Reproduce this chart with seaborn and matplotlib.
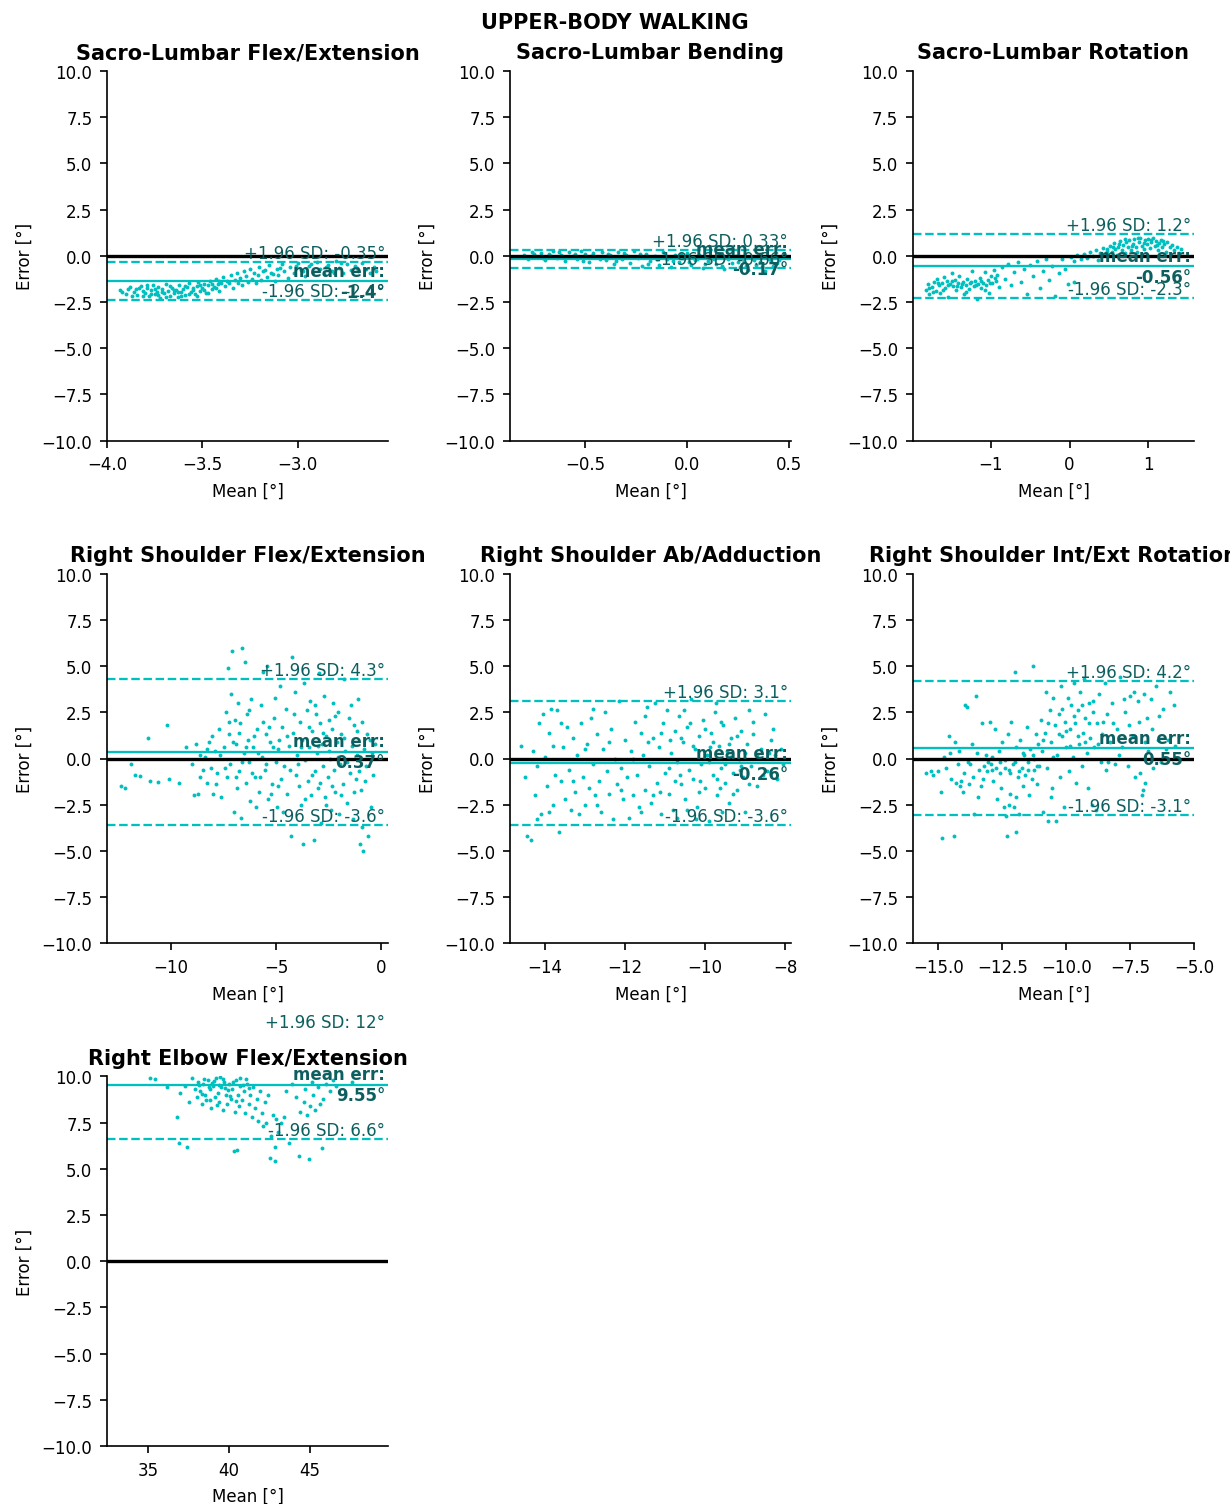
import matplotlib
matplotlib.use("Agg")
import matplotlib.pyplot as plt
import matplotlib.transforms as mtransforms
import seaborn as sns
import pandas as pd

# ---------------- data ----------------
titles = ["Sacro-Lumbar Flex/Extension", "Sacro-Lumbar Bending", "Sacro-Lumbar Rotation",
          "Right Shoulder Flex/Extension", "Right Shoulder Ab/Adduction",
          "Right Shoulder Int/Ext Rotation", "Right Elbow Flex/Extension"]

mean_err = [-1.38, -0.17, -0.56, 0.37, -0.26, 0.55, 9.55]
upper_loa = [-0.35, 0.33, 1.20, 4.32, 3.10, 4.18, 12.45]
lower_loa = [-2.41, -0.66, -2.31, -3.58, -3.62, -3.07, 6.62]
mean_lbl = ["-1.4", "-0.17", "-0.56", "0.37", "-0.26", "0.55", "9.55"]
upper_lbl = ["-0.35", "0.33", "1.2", "4.3", "3.1", "4.2", "12"]
lower_lbl = ["-2.4", "-0.66", "-2.3", "-3.6", "-3.6", "-3.1", "6.6"]

xlims = [(-4.0, -2.525), (-0.87, 0.51), (-1.99, 1.58), (-13.05, 0.33),
         (-14.88, -7.85), (-16.0, -5.0), (32.47, 49.8)]

sl_flex = [(-3.93,-1.85),(-3.90,-2.05),(-3.88,-1.70),(-3.86,-1.95),(-3.85,-1.80),(-3.84,-2.10),(-3.82,-1.65),
    (-3.81,-1.90),(-3.80,-2.00),(-3.79,-1.75),(-3.78,-2.20),(-3.77,-1.85),(-3.76,-1.60),(-3.75,-2.05),(-3.74,-1.95),
    (-3.73,-1.70),(-3.72,-2.30),(-3.71,-1.80),(-3.70,-2.00),(-3.69,-1.55),(-3.68,-1.90),(-3.67,-2.15),(-3.66,-1.75),
    (-3.65,-2.00),(-3.64,-1.85),(-3.63,-2.25),(-3.62,-1.60),(-3.61,-1.95),(-3.60,-1.80),(-3.59,-2.10),(-3.58,-1.70),
    (-3.57,-1.50),(-3.56,-1.95),(-3.55,-1.85),(-3.54,-2.05),(-3.53,-1.65),(-3.52,-1.40),(-3.51,-1.90),(-3.50,-1.75),
    (-3.49,-1.55),(-3.48,-2.00),(-3.47,-1.60),(-3.46,-1.35),(-3.45,-1.80),(-3.44,-1.70),(-3.43,-1.25),(-3.42,-1.55),
    (-3.41,-1.90),(-3.40,-1.45),(-3.39,-1.15),(-3.38,-1.65),(-3.37,-1.35),(-3.36,-1.50),(-3.35,-1.05),(-3.34,-1.75),
    (-3.33,-1.30),(-3.32,-0.95),(-3.31,-1.45),(-3.30,-1.20),(-3.29,-1.60),(-3.28,-0.85),(-3.27,-1.10),(-3.26,-1.40),
    (-3.25,-0.70),(-3.24,-1.25),(-3.23,-0.95),(-3.22,-1.50),(-3.21,-1.05),(-3.20,-0.60),(-3.19,-1.30),(-3.18,-0.85),
    (-3.16,-1.15),(-3.15,-0.50),(-3.14,-0.95),(-3.12,-1.35),(-3.11,-0.70),(-3.10,-1.05),(-3.08,-0.45),(-3.07,-0.85),
    (-3.05,-1.20),(-3.04,-0.60),(-3.02,-0.95),(-3.00,-0.40),(-2.98,-0.75),(-2.96,-1.10),(-2.94,-0.55),(-2.92,-0.90),
    (-2.90,-0.35),(-2.88,-0.70),(-2.86,-1.00),(-2.84,-0.50),(-2.82,-0.80),(-2.80,-0.30),(-2.78,-0.65),(-2.76,-0.95),
    (-2.74,-0.45),(-2.72,-0.75),(-2.70,-0.55),(-2.68,-0.85),(-2.66,-0.40),(-2.64,-0.70),(-2.62,-0.95),(-2.60,-0.60),
    (-2.59,-0.80),(-3.92,-1.95),(-3.89,-1.80),(-3.87,-2.15),(-3.83,-1.75),(-3.81,-2.20),(-3.79,-1.60),(-3.77,-2.05),
    (-3.75,-1.80),(-3.73,-2.10),(-3.71,-1.95),(-3.69,-2.25),(-3.67,-1.65),(-3.65,-1.85),(-3.63,-1.95),(-3.61,-2.20),
    (-3.59,-1.65),(-3.57,-2.05),(-3.55,-1.75),(-3.53,-2.15),(-3.51,-1.60),(-3.49,-1.85),(-3.47,-2.00),(-3.45,-1.55),
    (-3.43,-1.75),(-3.41,-1.35),(-3.17,-0.75),(-3.09,-0.65),(-3.01,-0.55),(-2.93,-0.45),(-2.85,-0.60),(-2.77,-0.40),
    (-2.69,-0.65),(-3.13,-1.00),(-2.97,-0.85),(-2.81,-0.95)]

sl_bend = [(-0.80,0.05),(-0.78,-0.15),(-0.76,0.20),(-0.74,-0.05),(-0.72,0.15),(-0.70,-0.25),(-0.68,0.10),
    (-0.66,0.28),(-0.64,-0.10),(-0.62,0.05),(-0.60,-0.30),(-0.58,0.20),(-0.56,0.00),(-0.54,-0.20),(-0.52,0.25),
    (-0.50,0.08),(-0.48,-0.35),(-0.46,0.15),(-0.44,-0.05),(-0.42,0.22),(-0.40,-0.25),(-0.38,0.05),(-0.36,-0.45),
    (-0.34,0.18),(-0.32,-0.15),(-0.30,0.02),(-0.28,-0.38),(-0.26,0.25),(-0.24,-0.10),(-0.22,-0.55),(-0.20,0.10),
    (-0.18,-0.30),(-0.16,0.00),(-0.14,-0.48),(-0.12,0.20),(-0.10,-0.20),(-0.08,-0.62),(-0.06,0.05),(-0.04,-0.35),
    (-0.02,-0.12),(0.00,0.15),(0.02,-0.50),(0.04,-0.25),(0.06,0.05),(0.08,-0.65),(0.10,-0.30),(0.12,-0.05),
    (0.14,-0.45),(0.16,0.12),(0.18,-0.70),(0.20,-0.20),(0.22,-0.40),(0.24,0.00),(0.26,-0.60),(0.28,-0.28),
    (0.30,-0.75),(0.32,-0.10),(0.34,-0.50),(0.36,-0.35),(0.38,-0.80),(0.40,-0.15),(0.42,-0.55),(0.44,-0.40),
    (0.45,-0.25),(-0.79,-0.05),(-0.75,0.10),(-0.71,-0.12),(-0.67,0.00),(-0.63,0.18),(-0.59,-0.08),(-0.55,0.12),
    (-0.51,-0.28),(-0.47,0.00),(-0.43,-0.18),(-0.39,0.12),(-0.35,-0.28),(-0.31,0.15),(-0.27,-0.05),(-0.23,0.08),
    (-0.19,-0.42),(-0.15,-0.15),(-0.11,0.02),(-0.07,-0.28),(-0.03,0.10),(0.01,-0.32),(0.05,-0.15),(0.09,-0.42),
    (0.13,-0.20),(0.17,-0.55),(0.21,-0.05),(0.25,-0.35),(0.29,-0.55),(0.33,-0.25),(0.37,-0.60),(0.41,-0.30)]

sl_rot = [(-1.83,-1.85),(-1.80,-1.55),(-1.78,-2.05),(-1.75,-1.70),(-1.72,-1.40),(-1.70,-1.90),(-1.68,-1.25),
    (-1.66,-1.60),(-1.64,-2.00),(-1.62,-1.45),(-1.60,-1.15),(-1.58,-1.75),(-1.56,-1.35),(-1.54,-2.25),(-1.52,-1.55),
    (-1.50,-0.95),(-1.48,-1.65),(-1.46,-1.30),(-1.44,-1.85),(-1.42,-1.50),(-1.40,-1.10),(-1.38,-1.70),(-1.36,-1.40),
    (-1.34,-2.05),(-1.32,-1.60),(-1.30,-1.25),(-1.28,-1.80),(-1.26,-1.50),(-1.24,-0.85),(-1.22,-1.65),(-1.20,-1.35),
    (-1.18,-2.35),(-1.16,-1.55),(-1.14,-1.20),(-1.12,-1.75),(-1.10,-1.45),(-1.08,-0.90),(-1.06,-1.60),(-1.04,-1.30),
    (-1.02,-2.00),(-1.00,-1.10),(-0.98,-1.50),(-0.96,-0.75),(-0.94,-1.35),(-0.92,-1.05),(-0.90,-1.70),
    (-1.79,-1.75),(-1.73,-1.95),(-1.67,-1.45),(-1.61,-1.85),(-1.55,-1.60),(-1.49,-1.35),(-1.43,-1.65),
    (-1.37,-1.55),(-1.31,-1.95),(-1.25,-1.40),(-1.19,-1.60),(-1.13,-1.35),(-1.07,-1.85),(-1.01,-1.45),(-0.95,-1.20),
    (-0.86,-0.60),(-0.82,-1.25),(-0.78,-0.45),(-0.74,-1.60),(-0.70,-0.90),(-0.66,-0.35),(-0.62,-1.40),(-0.58,-0.70),
    (-0.54,-2.05),(-0.50,-0.50),(-0.46,-1.10),(-0.42,-0.30),(-0.38,-1.75),(-0.34,-0.80),(-0.30,-0.20),(-0.26,-1.30),
    (-0.22,-0.55),(-0.18,-2.15),(-0.14,-0.95),(-0.10,-0.15),(-0.06,-0.70),(-0.02,-1.55),
    (0.02,-0.05),(0.05,-1.40),(0.06,-0.30),(0.10,0.05),(0.14,-0.20),(0.18,0.10),(0.22,-0.10),(0.26,0.20),
    (0.30,0.00),(0.33,0.30),(0.36,-0.25),(0.39,0.15),(0.42,0.40),(0.45,0.05),(0.48,0.25),(0.51,0.55),(0.54,0.20),
    (0.56,0.70),(0.58,0.35),(0.60,0.05),(0.62,0.50),(0.64,0.80),(0.66,0.30),(0.68,0.60),(0.70,0.15),(0.72,0.75),
    (0.74,0.45),(0.76,0.85),(0.78,0.30),(0.80,0.65),(0.82,0.90),(0.84,0.50),(0.86,0.20),(0.88,0.75),(0.90,0.95),
    (0.92,0.55),(0.94,0.35),(0.96,0.85),(0.98,0.65),(1.00,0.90),(1.02,0.40),(1.04,0.75),(1.06,0.95),(1.08,0.55),
    (1.10,0.80),(1.12,0.30),(1.14,0.70),(1.16,0.85),(1.18,0.50),(1.20,0.65),(1.22,0.20),(1.24,0.75),(1.27,0.45),
    (1.30,0.60),(1.33,0.30),(1.36,0.50),(1.39,0.15),(1.42,0.35),(0.63,0.65),(0.71,0.90),(0.79,0.55),(0.87,0.95),
    (0.95,0.70),(1.03,0.85),(1.11,0.60),(1.19,0.80),(0.55,0.45),(0.47,0.35)]

sh_flex = [(-12.4,-1.5),(-12.2,-1.6),(-11.9,-0.3),(-11.7,-0.9),(-11.5,-0.95),(-11.1,1.1),(-11.0,-1.2),
    (-10.6,-1.25),(-10.2,1.8),(-10.1,-1.1),(-9.6,-1.3),(-9.3,0.6),
    (-9.0,-0.3),(-8.9,-2.0),(-8.8,0.8),(-8.7,-1.9),(-8.6,0.2),(-8.5,-0.6),(-8.4,0.1),(-8.3,-1.3),(-8.2,0.9),
    (-8.1,-0.5),(-8.0,-1.9),(-7.9,0.4),(-7.8,-0.8),(-7.7,1.6),(-7.6,-2.1),(-7.5,0.6),(-7.4,2.5),(-7.35,-1.0),
    (-7.3,4.9),(-7.25,1.3),(-7.2,-0.3),(-7.15,3.5),(-7.1,5.8),(-7.0,-2.9),(-6.95,2.1),(-6.9,0.8),(-6.85,-1.6),
    (-6.8,3.0),(-6.75,-0.7),(-6.7,1.9),(-6.65,-3.2),(-6.6,6.0),(-6.55,0.3),(-6.5,5.2),(-6.45,-1.3),(-6.4,2.4),
    (-6.35,1.0),(-6.3,-0.2),(-6.25,-2.3),(-6.2,3.2),(-6.1,0.6),(-6.0,-1.0),(-5.9,1.6),(-5.8,-1.8),(-5.7,2.9),
    (-5.65,0.1),(-5.6,4.7),(-5.55,-0.6),(-5.5,1.3),(-5.45,5.0),(-5.4,-2.2),(-5.3,0.9),(-5.2,-1.4),(-5.1,2.2),
    (-5.0,-0.2),(-4.95,-2.6),(-4.9,0.5),(-4.8,3.9),(-4.75,-1.1),(-4.7,1.7),(-4.6,-0.4),(-4.55,2.7),(-4.5,-1.9),
    (-4.4,0.7),(-4.3,-4.2),(-4.25,5.5),(-4.2,1.4),(-4.1,3.6),(-4.05,-0.9),(-4.0,0.2),(-3.9,-1.5),(-3.85,2.0),
    (-3.8,-2.5),(-3.75,1.0),(-3.7,-4.6),(-3.65,4.1),(-3.6,-0.1),(-3.55,2.6),(-3.5,-1.2),(-3.45,0.6),(-3.4,3.1),
    (-3.35,-2.0),(-3.3,1.5),(-3.2,-4.4),(-3.15,-0.7),(-3.1,2.4),(-3.05,0.3),(-3.0,-1.6),(-2.95,4.6),(-2.9,1.9),
    (-2.85,-3.5),(-2.8,0.8),(-2.75,-0.4),(-2.7,3.4),(-2.65,-2.1),(-2.6,1.2),(-2.55,-1.0),(-2.5,2.1),(-2.45,0.0),
    (-2.4,-2.8),(-2.35,1.6),(-2.3,3.0),(-2.25,-0.6),(-2.2,-1.8),(-2.1,0.9),(-2.05,2.5),(-2.0,-3.0),(-1.95,-0.3),
    (-1.9,1.3),(-1.8,-1.4),(-1.75,4.3),(-1.7,0.4),(-1.6,-2.4),(-1.55,2.2),(-1.5,-0.8),(-1.4,0.7),(-1.35,-3.3),
    (-1.3,1.8),(-1.2,-1.1),(-1.15,0.2),(-1.1,3.2),(-1.0,-4.6),(-0.95,-1.7),(-0.9,-3.7),(-0.85,-5.0),(-0.8,0.5),
    (-0.7,-0.4),(-0.6,-4.2),(-0.55,1.0),(-0.5,-2.6),(-0.45,0.3),
    (-8.6,-1.0),(-8.3,0.5),(-8.05,1.2),(-7.85,-1.4),(-7.65,0.2),(-7.45,-0.5),(-7.25,2.0),(-7.05,0.9),(-6.9,-1.0),
    (-6.75,1.4),(-6.6,-0.2),(-6.45,0.6),(-6.3,2.6),(-6.15,-0.8),(-6.05,1.2),(-5.95,-2.6),(-5.85,0.3),(-5.75,-1.0),
    (-5.6,2.0),(-5.5,-0.3),(-5.35,1.7),(-5.25,-1.9),(-5.15,0.6),(-5.05,3.3),(-4.9,-1.5),(-4.85,1.0),(-4.65,-2.9),
    (-4.5,1.2),(-4.35,-0.6),(-4.15,2.4),(-3.95,-0.3),(-3.8,0.6),(-3.6,-2.2),(-3.45,1.7),(-3.3,-0.9),(-3.15,2.9),
    (-3.0,0.7),(-2.9,-1.3),(-2.75,1.4),(-2.6,-2.5),(-2.5,0.4),(-2.35,-1.5),(-2.2,2.3),(-2.05,0.1),(-1.9,-2.0),
    (-1.75,1.1),(-1.6,-0.2),(-1.45,2.9),(-1.3,-1.8),(-1.15,1.5),(-1.05,-0.7),(-0.9,2.0),(-0.75,-1.2),(-0.65,1.3),
    (-0.4,-0.9),(-0.3,0.8)]

sh_abd = [(-14.6,0.7),(-14.45,-4.2),(-14.35,-4.4),(-14.3,0.4),(-14.25,-2.0),(-14.2,-3.3),(-14.15,1.9),
    (-14.1,-3.0),(-14.05,2.4),(-14.0,0.1),(-13.95,-1.5),(-13.9,1.4),(-13.85,2.7),(-13.8,-2.5),(-13.75,-0.9),
    (-13.7,2.6),(-13.65,-4.0),(-13.6,-1.2),(-13.55,0.6),(-13.5,-2.2),(-13.45,1.7),(-13.4,-0.6),(-13.35,-2.8),
    (-13.3,1.1),(-13.25,-1.8),(-13.2,0.2),(-13.15,-3.0),(-13.1,1.9),(-13.05,-1.0),(-13.0,-2.5),
    (-12.95,0.8),(-12.9,-1.6),(-12.85,2.2),(-12.8,-0.3),(-12.75,-2.0),(-12.7,1.3),(-12.65,-1.2),(-12.6,-2.9),
    (-12.55,0.5),(-12.5,2.5),(-12.45,-0.7),(-12.4,-1.9),(-12.35,1.6),(-12.3,-3.3),(-12.25,0.0),(-12.2,-1.4),
    (-12.15,3.1),(-12.1,-0.5),(-12.05,-2.2),(-12.0,1.0),(-11.95,-1.0),(-11.9,-3.2),(-11.85,0.4),(-11.8,-2.0),
    (-11.75,2.0),(-11.7,-0.9),(-11.65,-2.6),(-11.6,1.4),(-11.55,0.2),(-11.5,-1.7),
    (-11.45,2.8),(-11.4,-0.4),(-11.35,-2.4),(-11.3,1.1),(-11.25,3.0),(-11.2,-1.3),(-11.15,0.6),(-11.1,-3.0),
    (-11.05,1.9),(-11.0,-0.8),(-10.95,2.6),(-10.9,-1.9),(-10.85,0.3),(-10.8,-2.8),(-10.75,1.5),(-10.7,-0.2),
    (-10.65,2.3),(-10.6,-1.4),(-10.55,0.9),(-10.5,-2.2),(-10.45,1.7),(-10.4,-0.6),(-10.35,3.2),(-10.3,-1.1),
    (-10.25,0.5),(-10.2,-2.6),(-10.15,1.2),(-10.1,-0.3),(-10.05,2.1),(-10.0,-1.6),(-9.95,0.2),(-9.9,-3.4),
    (-9.85,1.4),(-9.8,-0.9),(-9.75,2.5),(-9.7,-2.0),(-9.65,0.7),(-9.6,-0.5),(-9.55,1.8),(-9.5,-1.3),(-9.45,0.4),
    (-9.4,-2.4),(-9.35,1.1),(-9.3,-0.8),(-9.25,2.2),(-9.2,-1.7),(-9.15,0.0),(-9.1,1.5),(-9.05,-1.0),(-9.0,-2.9),
    (-8.95,0.8),(-8.9,2.6),(-8.85,-0.4),(-8.8,1.3),(-8.7,-1.5),(-8.6,0.5),(-8.5,2.4),(-8.45,-0.7),(-8.4,0.3),
    (-8.3,1.6),(-8.2,-1.1),(-8.1,0.5),(-8.05,-0.3),(-11.42,0.9),(-11.12,-1.8),(-10.88,1.0),(-10.62,-0.9),
    (-10.38,1.9),(-10.12,-1.2),(-9.88,0.6),(-9.62,-1.6),(-9.38,0.1),(-9.12,-0.6),(-9.58,-2.9),(-10.22,-3.3),
    (-9.72,3.0),(-10.52,2.6),
    (-14.5,-1.0),(-14.2,-0.4),(-13.9,-2.9),(-13.6,1.9),(-13.3,-1.2),(-13.0,0.5),(-12.7,-2.5),(-12.4,0.9),
    (-12.1,-1.7),(-11.8,0.0),(-11.5,2.3),(-11.3,-2.0),(-11.1,1.4),(-10.9,-0.5),(-10.75,-1.2),(-10.6,1.1),
    (-10.45,-2.8),(-10.3,0.7),(-10.15,-1.8),(-10.0,1.6),(-9.9,-0.2),(-9.8,0.9),(-9.7,-1.1),(-9.6,2.0),(-9.5,-0.3),
    (-9.4,0.8),(-9.3,-1.9),(-9.2,1.2),(-9.1,-0.4),(-9.0,0.3),(-8.9,-1.4),(-8.8,2.0),(-8.7,0.2),(-8.55,-0.9),
    (-8.35,1.0),(-8.25,0.2),(-10.7,-3.2),(-11.6,-2.9),(-12.8,2.7),(-13.8,0.7)]

sh_rot = [(-15.5,-0.8),(-15.3,-0.7),(-15.0,-0.7),(-14.85,-4.3),(-14.8,0.1),(-14.7,-0.5),(-14.6,1.2),
    (-14.5,-1.1),(-14.4,-4.2),(-14.35,0.9),(-14.3,-1.3),(-14.25,-0.3),(-14.2,0.4),(-14.15,-1.5),(-14.1,-1.2),
    (-14.0,-0.8),(-13.95,2.9),(-13.9,2.8),(-13.85,-0.2),(-13.8,-1.4),(-13.7,0.8),(-13.65,-1.0),(-13.6,-3.0),
    (-13.55,3.4),(-13.5,0.3),(-13.45,-2.1),(-13.4,-0.6),(-13.3,1.9),(-13.25,-1.1),(-13.2,-0.4),(-13.15,0.2),
    (-13.1,-0.7),(-13.05,-0.2),(-13.0,2.0),
    (-12.95,-0.3),(-12.9,0.1),(-12.85,-1.2),(-12.8,1.6),(-12.75,-0.5),(-12.7,-2.2),(-12.65,0.4),(-12.6,-0.8),
    (-12.55,-1.6),(-12.5,0.9),(-12.45,-2.6),(-12.4,-0.1),(-12.35,-3.1),(-12.3,-4.2),(-12.28,1.3),(-12.25,-0.6),
    (-12.2,-1.9),(-12.15,2.0),(-12.1,-0.3),(-12.05,-2.6),(-12.0,4.7),(-11.98,-4.0),(-11.95,0.6),(-11.9,-1.0),
    (-11.85,-3.0),(-11.8,1.0),(-11.75,-0.5),(-11.7,-1.5),(-11.65,0.2),(-11.6,-0.9),(-11.55,1.7),(-11.5,-0.2),
    (-11.45,-2.0),(-11.4,0.5),(-11.35,-1.1),(-11.3,5.0),(-11.28,0.0),(-11.25,-0.6),(-11.2,1.3),(-11.15,-1.4),
    (-11.1,0.8),(-11.05,-0.4),(-11.0,2.1),
    (-10.95,0.4),(-10.9,-2.9),(-10.85,1.4),(-10.8,3.6),(-10.75,-0.5),(-10.7,-3.4),(-10.65,2.6),(-10.6,0.9),
    (-10.55,-1.6),(-10.5,3.3),(-10.45,1.8),(-10.4,-3.4),(-10.35,0.2),(-10.3,2.4),(-10.25,-1.0),(-10.2,3.9),
    (-10.15,1.2),(-10.1,-2.6),(-10.05,2.0),(-10.0,0.6),(-9.95,3.3),(-9.9,-0.7),(-9.85,1.6),(-9.8,2.9),(-9.75,0.1),
    (-9.7,4.1),(-9.65,1.9),(-9.6,-1.3),(-9.55,2.6),(-9.5,0.8),(-9.45,3.6),(-9.4,-0.4),(-9.35,1.4),(-9.3,4.3),
    (-9.25,2.2),(-9.2,0.3),(-9.15,-1.6),(-9.1,3.0),(-9.05,1.1),(-9.0,-2.5),(-8.95,2.5),(-8.9,0.6),(-8.85,-2.8),
    (-8.8,1.9),(-8.7,3.5),(-8.65,-0.2),(-8.6,1.3),(-8.5,4.1),(-8.45,-0.6),(-8.4,2.4),(-8.3,0.9),(-8.2,3.0),
    (-8.1,-0.3),(-8.0,1.6),(-7.9,4.4),(-7.8,0.6),(-7.7,2.5),(-7.6,-0.4),(-7.5,3.4),(-7.4,1.2),(-7.3,-1.0),
    (-7.2,3.1),(-7.1,-0.8),(-7.05,-2.0),(-7.0,-1.7),(-6.95,3.5),(-6.9,-1.3),(-6.85,2.2),(-6.8,0.4),(-6.7,3.2),
    (-6.6,-0.5),(-6.5,3.9),(-6.4,1.0),(-6.3,-0.2),(-6.2,2.7),(-6.1,0.5),(-5.95,3.6),(-5.8,2.9),(-5.75,0.7),
    (-15.2,-0.9),(-14.9,-1.8),(-14.55,0.3),(-14.05,-1.8),(-13.75,-0.3),(-13.35,-1.5),(-12.9,-0.6),(-12.6,-0.2),
    (-12.4,-0.5),(-12.2,-0.8),(-12.0,-0.2),(-11.85,-0.7),(-11.7,0.3),(-11.5,-0.6),(-11.3,0.2),(-11.15,-0.4),
    (-10.9,1.0),(-10.7,1.9),(-10.5,0.1),(-10.3,1.3),(-10.15,2.7),(-10.0,1.5),(-9.85,0.7),(-9.7,2.3),(-9.55,1.2),
    (-9.4,2.9),(-9.25,0.9),(-9.1,1.9),(-8.95,3.1),(-8.75,0.8),(-8.55,2.0),(-8.35,-0.2),(-8.15,1.9),(-7.95,0.2),
    (-7.75,3.2),(-7.55,1.8),(-7.35,3.6),(-7.15,2.0),(-6.9,0.9),(-6.65,1.6),(-6.35,2.3),(-6.0,1.0),(-12.25,-2.5),
    (-11.95,-2.1),(-10.6,-2.1)]

el_flex = [(35.1,9.9),(35.4,9.85),(36.2,9.4),(36.8,7.8),(36.9,6.4),(37.4,6.2),(37.0,9.1),(37.3,9.5),
    (37.5,8.6),(37.7,9.9),(37.9,9.3),(38.0,8.9),(38.1,9.7),(38.2,9.2),(38.3,8.5),(38.4,9.6),(38.5,9.0),(38.6,8.7),
    (38.7,9.8),(38.8,9.3),(38.9,8.3),(39.0,9.5),(39.1,8.9),(39.2,9.9),(39.3,9.1),(39.4,8.6),(39.5,9.4),(39.6,8.2),
    (39.7,9.7),(39.8,9.0),(39.9,8.5),(40.0,9.6),(40.1,8.8),(40.2,9.3),(40.3,5.95),(40.35,8.1),(40.4,9.8),(40.5,6.0),
    (40.55,9.0),(40.6,8.4),(40.7,9.5),(40.8,8.7),(40.9,9.2),(41.0,8.0),(41.1,9.6),(41.2,8.5),(41.3,9.0),(41.4,7.8),
    (41.5,9.4),(41.6,8.3),(41.7,8.8),(41.8,7.6),(41.9,9.2),(42.0,8.0),(42.1,7.3),(42.2,8.6),(42.3,7.5),(42.4,9.0),
    (42.5,5.6),(42.6,6.8),(42.7,7.9),(42.8,5.4),(42.85,6.2),(42.9,7.7),(43.0,7.0),(43.2,7.5),(43.4,7.8),(43.5,9.2),
    (43.7,6.4),(43.9,9.6),(44.1,8.9),(44.3,5.7),(44.4,8.1),(44.6,8.6),(44.9,5.55),(44.7,9.3),(44.8,7.9),(45.0,8.4),
    (45.2,9.0),(45.3,8.2),(45.5,9.4),(45.7,6.1),(45.8,8.8),(46.0,9.6),(46.2,9.2),(46.4,9.8),(46.6,9.5),(47.6,9.7),
    (38.15,9.55),(38.45,9.85),(38.75,9.45),(39.05,9.75),(39.35,9.55),(39.65,9.85),(39.95,9.25),(40.25,9.7),
    (40.65,9.9),(39.45,9.95),(38.95,9.65),(41.05,9.85),(38.35,9.05),(38.85,8.75),(39.25,8.45),(39.75,9.35),
    (40.05,8.95),(40.45,8.65),(40.85,9.55),(41.25,9.35),(45.1,9.7),(45.6,8.5)]

panels = [sl_flex, sl_bend, sl_rot, sh_flex, sh_abd, sh_rot, el_flex]

# ---------------- style ----------------
sns.set_theme(style="ticks")
plt.rcParams["font.family"] = ["DejaVu Sans"]
plt.rcParams.update({
    "xtick.labelsize": 8, "ytick.labelsize": 8, "axes.labelsize": 8,
    "axes.titlesize": 10, "axes.titleweight": "bold",
    "axes.linewidth": 0.8, "xtick.major.width": 0.8, "ytick.major.width": 0.8,
    "xtick.major.size": 3.5, "ytick.major.size": 3.5,
    "axes.edgecolor": "black", "xtick.color": "black", "ytick.color": "black",
    "text.color": "black", "axes.labelcolor": "black",
})

PT_COLOR = "#00bfbf"
TXT_COLOR = "#0d5f5f"

fig, axes = plt.subplots(3, 3, figsize=(8.2, 10.0333), dpi=150)
fig.subplots_adjust(left=0.087, right=0.9707, bottom=0.0385, top=0.9522, wspace=0.434, hspace=0.360)
fig.suptitle("UPPER-BODY WALKING", fontsize=10, fontweight="bold", y=0.9915)

flat = axes.ravel()
for i, ax in enumerate(flat):
    if i >= len(panels):
        ax.remove()
        continue
    df = pd.DataFrame(panels[i], columns=["mean", "err"])
    sns.scatterplot(data=df, x="mean", y="err", ax=ax, s=3.5, color=PT_COLOR,
                    linewidth=0, legend=False, zorder=2)
    ax.axhline(mean_err[i], color=PT_COLOR, lw=1.1, zorder=1)
    ax.axhline(upper_loa[i], color=PT_COLOR, lw=1.1, ls="--", zorder=1)
    ax.axhline(lower_loa[i], color=PT_COLOR, lw=1.1, ls="--", zorder=1)
    ax.axhline(0, color="black", lw=1.6, zorder=3)
    ax.set_xlim(*xlims[i])
    ax.set_ylim(-10, 10)
    ax.set_yticks([-10, -7.5, -5, -2.5, 0, 2.5, 5, 7.5, 10])
    ax.set_xlabel("Mean [°]")
    ax.set_ylabel("Error [°]")
    ax.set_title(titles[i])
    trans = mtransforms.blended_transform_factory(ax.transAxes, ax.transData)
    ax.text(0.99, upper_loa[i], f"+1.96 SD: {upper_lbl[i]}°", transform=trans,
            ha="right", va="bottom", fontsize=8, color=TXT_COLOR, zorder=5)
    ax.text(0.99, lower_loa[i], f"-1.96 SD: {lower_lbl[i]}°", transform=trans,
            ha="right", va="bottom", fontsize=8, color=TXT_COLOR, zorder=5)
    ax.text(0.99, mean_err[i], f"mean err:\n{mean_lbl[i]}°", transform=trans,
            ha="right", va="center", fontsize=8, fontweight="bold", color=TXT_COLOR, zorder=5)
    sns.despine(ax=ax)

fig.savefig("out.png", dpi=150)
